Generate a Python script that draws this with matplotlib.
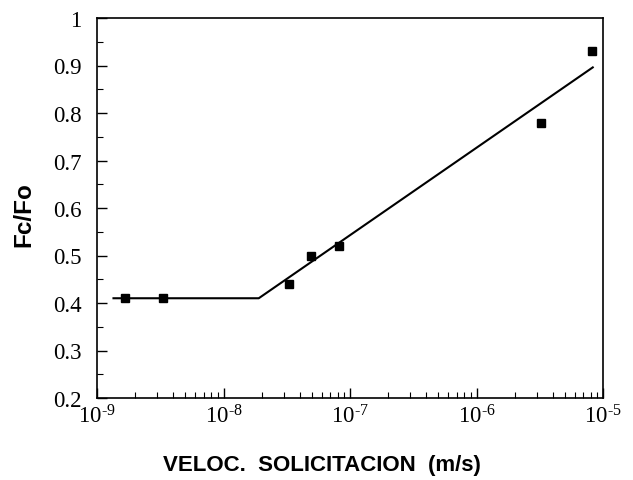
import matplotlib
matplotlib.use("Agg")
import matplotlib.pyplot as plt
from matplotlib.ticker import LogLocator, MultipleLocator, FixedLocator, NullFormatter

plt.rcParams['mathtext.fontset'] = 'custom'
plt.rcParams['mathtext.rm'] = 'Liberation Serif'
plt.rcParams['mathtext.it'] = 'Liberation Serif'

# data
vel = [1.66e-9, 3.3e-9, 3.3e-8, 4.9e-8, 8.2e-8, 3.25e-6, 8.2e-6]
fcfo = [0.41, 0.41, 0.44, 0.50, 0.52, 0.78, 0.93]
fit_x = [1.35e-9, 1.9e-8, 8.3e-6]
fit_y = [0.41, 0.41, 0.896]
y_ticks = [0.2, 0.3, 0.4, 0.5, 0.6, 0.7, 0.8, 0.9, 1.0]
y_tick_labels = ["0.2", "0.3", "0.4", "0.5", "0.6", "0.7", "0.8", "0.9", "1"]
x_ticks = [1e-9, 1e-8, 1e-7, 1e-6, 1e-5]
x_tick_labels = [r"$10^{\text{-}9}$", r"$10^{\text{-}8}$", r"$10^{\text{-}7}$",
                 r"$10^{\text{-}6}$", r"$10^{\text{-}5}$"]

fig = plt.figure(figsize=(6.33, 4.81), dpi=100)
ax = fig.add_axes([97/633, 1-399/481, (603-97)/633, (399-19)/481])

ax.plot(fit_x, fit_y, color='black', lw=1.5)
ax.plot(vel, fcfo, linestyle='none', marker='s', markersize=5.5, color='black')

ax.set_xscale('log')
ax.set_xlim(1e-9, 1e-5)
ax.set_ylim(0.2, 1.0)

ax.xaxis.set_major_locator(FixedLocator(x_ticks))
ax.set_xticklabels(x_tick_labels)
ax.xaxis.set_minor_locator(LogLocator(base=10, subs=range(2, 10), numticks=20))
ax.xaxis.set_minor_formatter(NullFormatter())
ax.set_yticks(y_ticks)
ax.set_yticklabels(y_tick_labels)
ax.yaxis.set_minor_locator(MultipleLocator(0.05))

for lab in ax.get_xticklabels() + ax.get_yticklabels():
    lab.set_fontfamily('Liberation Serif')
    lab.set_fontsize(16.5)

ax.tick_params(axis='both', which='both', direction='in', top=False, right=False)
ax.tick_params(axis='x', which='major', length=7, width=1, pad=4.5)
ax.tick_params(axis='x', which='minor', length=4, width=0.8)
ax.tick_params(axis='y', which='major', length=7, width=1, pad=11)
ax.tick_params(axis='y', which='minor', length=4, width=0.8)
for s in ax.spines.values():
    s.set_linewidth(1.2)

fig.text(322/633, 1-466/481, "VELOC.  SOLICITACION  (m/s)", ha='center', va='center',
         fontfamily='Liberation Sans', fontweight='bold', fontsize=16)
fig.text(24/633, 1-215/481, "Fc/Fo", ha='center', va='center', rotation=90,
         fontfamily='Liberation Sans', fontweight='bold', fontsize=17.5)

fig.savefig("out.png", dpi=100)
